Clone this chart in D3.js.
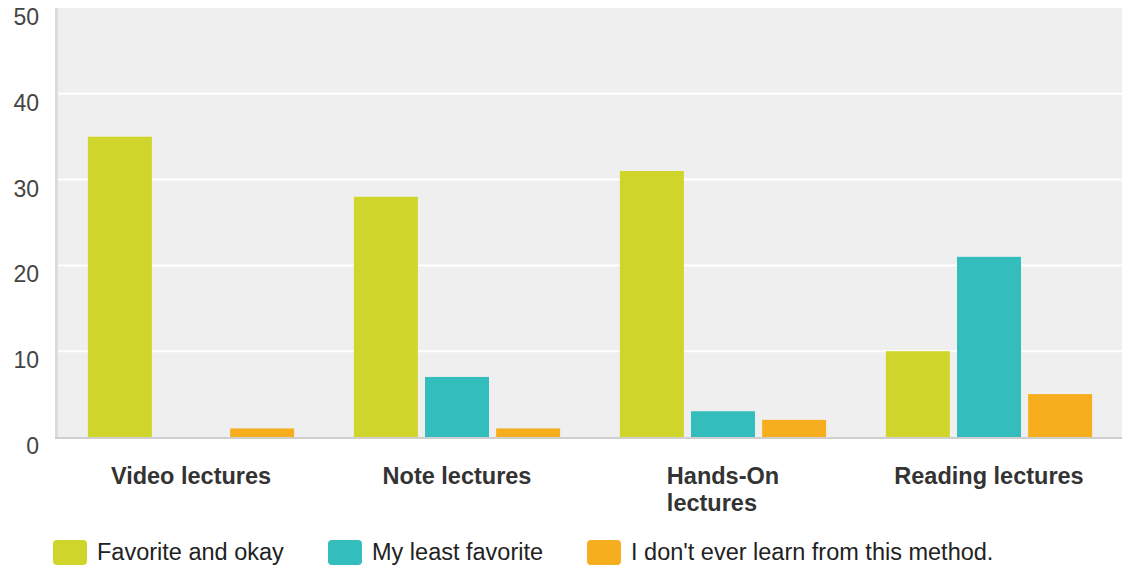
<!DOCTYPE html>
<html>
<head>
<meta charset="utf-8">
<script src="https://cdn.jsdelivr.net/npm/d3@7"></script>
<style>
  body { margin: 0; background: #fff; }
  svg { display: block; font-family: Arial, "Liberation Sans", sans-serif; }
</style>
</head>
<body>
<div id="chart"></div>
<script>
// DATA
const categories = ["Video lectures", "Note lectures", "Hands-On lectures", "Reading lectures"];
const categoryLines = [["Video lectures"], ["Note lectures"], ["Hands-On", "lectures"], ["Reading lectures"]];
const seriesNames = ["Favorite and okay", "My least favorite", "I don't ever learn from this method."];
const favorite = [35, 28, 31, 10];
const leastFavorite = [0, 7, 3, 21];
const neverLearn = [1, 1, 2, 5];
const yTicks = [0, 10, 20, 30, 40, 50];
const colors = ["#cfd52a", "#33bdbd", "#f6ae1f"];

const seriesValues = [favorite, leastFavorite, neverLearn];

// SVG DIMENSIONS
const width = 1132, height = 567;
const plot = { left: 58, right: 1122, top: 8, bottom: 437 };

const svg = d3.select("#chart").append("svg")
  .attr("width", width)
  .attr("height", height);

// SCALES
const x0 = d3.scaleBand().domain(categories).range([plot.left, plot.right]);
const x1 = d3.scaleBand().domain(seriesNames).range([0, x0.bandwidth()])
  .paddingInner(0.1).paddingOuter(0.42);
const y = d3.scaleLinear().domain([0, 50]).range([plot.bottom, plot.top]);

// background
svg.append("rect")
  .attr("x", plot.left).attr("y", plot.top)
  .attr("width", plot.right - plot.left)
  .attr("height", plot.bottom - plot.top)
  .attr("fill", "#efefef");

// gridlines
svg.append("g").selectAll("line")
  .data(yTicks.filter(d => d > 0 && d < 50))
  .enter().append("line")
    .attr("x1", plot.left).attr("x2", plot.right)
    .attr("y1", d => y(d)).attr("y2", d => y(d))
    .attr("stroke", "#fff").attr("stroke-width", 2);

// left axis line
svg.append("line")
  .attr("x1", plot.left - 1.5).attr("x2", plot.left - 1.5)
  .attr("y1", plot.top).attr("y2", plot.bottom + 1)
  .attr("stroke", "#dcdcdc").attr("stroke-width", 3);

// y tick labels
svg.append("g").selectAll("text")
  .data(yTicks)
  .enter().append("text")
    .attr("x", 39)
    .attr("y", d => y(d) + 17)
    .attr("text-anchor", "end")
    .attr("font-size", 23)
    .attr("fill", "#444")
    .text(d => d);

// bars
const groups = svg.append("g").selectAll("g")
  .data(categories)
  .enter().append("g")
    .attr("transform", d => `translate(${x0(d)},0)`);

groups.selectAll("rect")
  .data((c, i) => seriesNames.map((s, j) => ({ series: s, value: seriesValues[j][i], color: colors[j] })))
  .enter().append("rect")
    .filter(d => d.value > 0)
    .attr("x", d => x1(d.series))
    .attr("y", d => y(d.value))
    .attr("width", x1.bandwidth())
    .attr("height", d => y(0) - y(d.value))
    .attr("fill", d => d.color);

// baseline
svg.append("line")
  .attr("x1", plot.left - 3).attr("x2", plot.right)
  .attr("y1", plot.bottom + 1).attr("y2", plot.bottom + 1)
  .attr("stroke", "#cfcfcf").attr("stroke-width", 2);

// x labels (multi-line, left-aligned block centred on the group)
const xLabels = svg.append("g").selectAll("text")
  .data(categories)
  .enter().append("text")
    .attr("font-size", 23.5)
    .attr("font-weight", "bold")
    .attr("fill", "#333")
    .attr("text-anchor", "start");

xLabels.each(function (d, i) {
  const t = d3.select(this);
  categoryLines[i].forEach((line, k) => {
    t.append("tspan").attr("x", 0).attr("y", 484 + k * 27).text(line);
  });
  const w = this.getBBox().width;
  t.attr("transform", `translate(${x0(d) + x0.bandwidth() / 2 - w / 2},0)`);
});

// legend
const legendX = [53, 328, 587];
const legend = svg.append("g").selectAll("g")
  .data(seriesNames)
  .enter().append("g")
    .attr("transform", (d, i) => `translate(${legendX[i]},540)`);

legend.append("rect")
  .attr("width", 34).attr("height", 25)
  .attr("rx", 4)
  .attr("fill", (d, i) => colors[i]);

legend.append("text")
  .attr("x", 44).attr("y", 20)
  .attr("font-size", 23.5)
  .attr("fill", "#222")
  .text(d => d);
</script>
</body>
</html>
